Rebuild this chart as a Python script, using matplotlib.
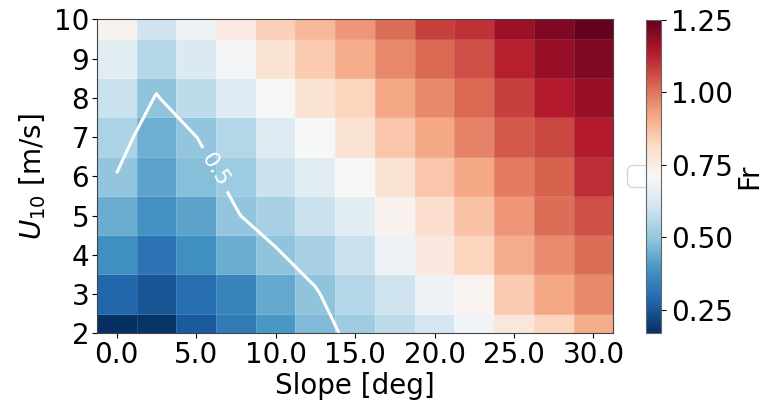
import numpy as np
import matplotlib
matplotlib.use("Agg")
import matplotlib.pyplot as plt

plt.rcParams['font.size'] = 20

# Slope [deg] (column centres) and U10 [m/s] (row centres)
slopes = [0.0, 2.5, 5.0, 7.5, 10.0, 12.5, 15.0, 17.5, 20.0, 22.5, 25.0, 27.5, 30.0]
u10 = [2, 3, 4, 5, 6, 7, 8, 9, 10]

# Froude number per wind speed row (values along slope)
fr_u02 = [0.17, 0.18, 0.255, 0.33, 0.395, 0.47, 0.52, 0.57, 0.61, 0.69, 0.77, 0.83, 0.91]
fr_u03 = [0.28, 0.25, 0.30, 0.35, 0.435, 0.493, 0.55, 0.60, 0.68, 0.725, 0.85, 0.92, 0.97]
fr_u04 = [0.38, 0.31, 0.38, 0.44, 0.4925, 0.53, 0.59, 0.68, 0.765, 0.83, 0.91, 0.965, 1.01]
fr_u05 = [0.44, 0.385, 0.42, 0.496, 0.53, 0.59, 0.65, 0.73, 0.80, 0.87, 0.95, 1.01, 1.06]
fr_u06 = [0.4965, 0.42, 0.48, 0.515, 0.59, 0.65, 0.71, 0.79, 0.86, 0.92, 0.99, 1.03, 1.11]
fr_u07 = [0.54, 0.445, 0.499, 0.55, 0.64, 0.71, 0.79, 0.86, 0.92, 0.98, 1.04, 1.07, 1.14]
fr_u08 = [0.59, 0.494, 0.57, 0.64, 0.71, 0.79, 0.83, 0.92, 0.97, 1.02, 1.08, 1.14, 1.18]
fr_u09 = [0.65, 0.55, 0.63, 0.70, 0.79, 0.85, 0.91, 0.97, 1.02, 1.06, 1.13, 1.18, 1.21]
fr_u10 = [0.73, 0.60, 0.68, 0.76, 0.84, 0.89, 0.95, 1.01, 1.08, 1.10, 1.17, 1.21, 1.25]

contour_level = [0.5]
xtick_vals = [0.0, 5.0, 10.0, 15.0, 20.0, 25.0, 30.0]
ytick_vals = [2, 3, 4, 5, 6, 7, 8, 9, 10]
cbar_ticks = [0.25, 0.50, 0.75, 1.00, 1.25]

Z = np.array([fr_u02, fr_u03, fr_u04, fr_u05, fr_u06, fr_u07, fr_u08, fr_u09, fr_u10])
X = np.array(slopes)
Y = np.array(u10)

fig = plt.figure(figsize=(7.68, 4.07), dpi=100)
ax = fig.add_axes([0.126, 0.181, 0.6726, 0.7716])
mesh = ax.pcolormesh(X, Y, Z, shading='nearest', cmap='RdBu_r',
                     vmin=Z.min(), vmax=Z.max(),
                     edgecolors=(1, 1, 1, 0.12), linewidth=0.4)
cs = ax.contour(X, Y, Z, levels=contour_level, colors='white', linewidths=2.2)
ax.clabel(cs, fmt='%.1f', fontsize=16, inline=True, colors='white',
          manual=[(6.3, 6.2)])

dx = (X[1] - X[0]) / 2
ax.set_xlim(X[0] - dx, X[-1] + dx)
ax.set_ylim(Y[0], Y[-1])
ax.set_xticks(xtick_vals)
ax.set_xticklabels([f"{v:.1f}" for v in xtick_vals])
ax.set_yticks(ytick_vals)
ax.set_xlabel('Slope [deg]', labelpad=2)
ax.set_ylabel('$U_{10}$ [m/s]')
ax.tick_params(axis='both', pad=2)
for s in ax.spines.values():
    s.set_edgecolor('#444444')

ax.legend(handles=[], loc='center left', bbox_to_anchor=(1.0, 0.5))

cax = fig.add_axes([0.841, 0.182, 0.02, 0.769])
cb = fig.colorbar(mesh, cax=cax, ticks=cbar_ticks)
cb.ax.set_yticklabels([f"{v:.2f}" for v in cbar_ticks])
cb.set_label('Fr', labelpad=2)
cb.outline.set_edgecolor('#666666')

fig.savefig('out.png', dpi=100)
